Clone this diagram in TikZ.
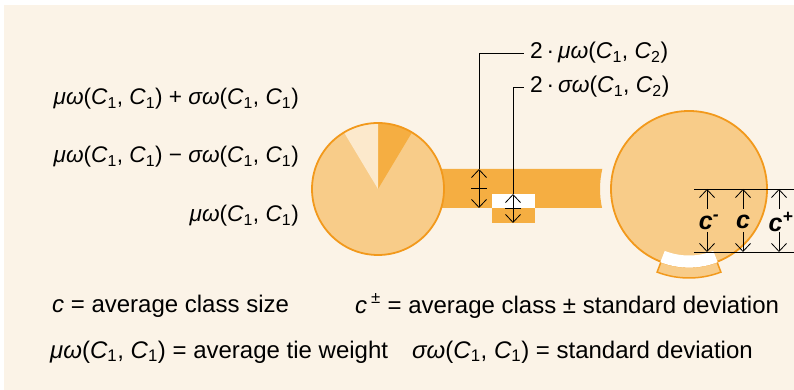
\documentclass[tikz,border=0pt]{standalone}
\usepackage{fontspec}
\setmainfont{Liberation Sans}
\usetikzlibrary{arrows.meta,calc}
\definecolor{bgc}{RGB}{251,243,231}
\definecolor{ostroke}{RGB}{242,153,28}
\definecolor{olight}{RGB}{248,204,137}
\definecolor{odark}{RGB}{245,174,66}
\definecolor{opale}{RGB}{252,233,204}
\newcommand{\wt}[3]{\textit{#1ω}(\textit{C}\textsubscript{#2}, \textit{C}\textsubscript{#3})}
\tikzset{
  lbl/.style={inner sep=0pt, font=\fontsize{22.6}{26}\selectfont},
  rlbl/.style={inner sep=0pt, font=\fontsize{22.8}{26}\selectfont},
  clbl/.style={inner sep=0pt, font=\fontsize{25}{28}\selectfont\bfseries\itshape},
  btxt/.style={inner sep=0pt, font=\fontsize{24}{28}\selectfont},
  dim/.style={draw=black, line width=0.8pt},
  dimarr/.style={draw=black, line width=0.8pt, -{Straight Barb[length=8pt,width=15pt,line width=0.8pt]}},
  circ/.style={draw=ostroke, line width=1.8pt, fill=olight},
}
\begin{document}
\begin{tikzpicture}[x=1pt,y=1pt]
\useasboundingbox (0,0) rectangle (794,390);
\fill[white] (0,0) rectangle (794,390);
\fill[bgc] (4,0) rectangle (794,385);
% centres
\coordinate (P) at (378,201);
\coordinate (Q) at (689,201);
% bar
\fill[odark] (430,221) -- ($(Q)+(167.01:89)$) arc[start angle=167.01, end angle=192.33, radius=89] -- (430,182) -- cycle;
% small rects
\fill[white] (492,182) rectangle (535,196);
\fill[odark] (492,167) rectangle (535,182);
% left pie
\fill[olight] (P) circle[radius=66];
\fill[odark] (P) -- ++(59:66) arc[start angle=59, end angle=90, radius=66] -- cycle;
\fill[opale] (P) -- ++(90:66) arc[start angle=90, end angle=121, radius=66] -- cycle;
\draw[draw=ostroke, line width=1.8pt] (P) circle[radius=66];
% right circle
\draw[circ] (Q) circle[radius=78];
% self tie sector
\draw[draw=ostroke, line width=1.5pt, fill=olight] ($(Q)+(249:78)$) arc[start angle=249, end angle=291, radius=78] -- ($(Q)+(291:89)$) arc[start angle=291, end angle=249, radius=89] -- cycle;
\fill[white] ($(Q)+(248.6:66.5)$) arc[start angle=248.6, end angle=291.4, radius=66.5] -- ($(Q)+(291.4:78.6)$) arc[start angle=291.4, end angle=248.6, radius=78.6] -- cycle;
% bar arrows
\coordinate (m1) at (479,201.5);
\coordinate (t1) at (479,221);
\coordinate (b1) at (479,182);
\draw[dimarr] (m1) -- (t1);
\draw[dimarr] (m1) -- (b1);
\draw[dim] (471,201.5) -- (487,201.5);
\coordinate (m2) at (513,182);
\coordinate (t2) at (513,196);
\coordinate (b2) at (513,167);
\draw[dimarr] (m2) -- (t2);
\draw[dimarr] (m2) -- (b2);
\draw[dim] (505,182) -- (521,182);
% right labels
\node[rlbl, anchor=west] (L1) at (530,337) {2\,·\,\wt{μ}{1}{2}};
\node[rlbl, anchor=west] (L2) at (530,303) {2\,·\,\wt{σ}{1}{2}};
\draw[dim] (t1) |- ([xshift=-6pt]L1.west);
\draw[dim] (t2) |- ([xshift=-6pt]L2.west);
% left labels
\node[lbl, anchor=east] (A1) at (299,291) {\wt{μ}{1}{1} + \wt{σ}{1}{1}};
\node[lbl, anchor=east] (A2) at (299,233) {\wt{μ}{1}{1} − \wt{σ}{1}{1}};
\node[lbl, anchor=east] (A3) at (299,174) {\wt{μ}{1}{1}};
% dimension lines right
\coordinate (dt0) at (694,201);
\coordinate (dt1) at (794,201);
\coordinate (db0) at (694,138);
\coordinate (db1) at (794,138);
\draw[dim] (dt0) -- (dt1);
\draw[dim] (db0) -- (db1);
\node[clbl] (cm) at (709,168) {c\textsuperscript{-}};
\node[clbl] (c0) at (743,168) {c};
\node[clbl] (cp) at (781,168) {c\textsuperscript{+}};
\foreach \x in {707,743,779}{
  \draw[dimarr] (\x,181) -- (\x,201);
  \draw[dimarr] (\x,158) -- (\x,138);
}
% bottom legend
\node[btxt, anchor=west] (g1) at (52,84) {\textit{c} = average class size};
\node[btxt, anchor=west] (g2) at (355,84) {\textit{c}\,\textsuperscript{±} = average class ± standard deviation};
\node[btxt, anchor=west] (g3) at (50,38) {\wt{μ}{1}{1} = average tie weight};
\node[btxt, anchor=west] (g4) at (412,38) {\wt{σ}{1}{1} = standard deviation};
\end{tikzpicture}
\end{document}
